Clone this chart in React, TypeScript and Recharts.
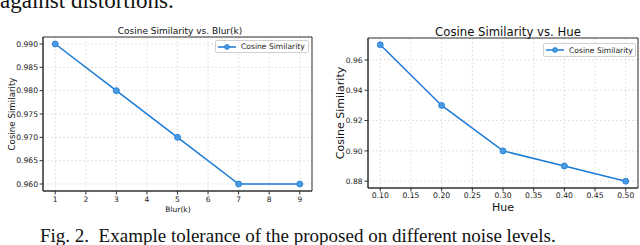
import React from 'react';
import {
  LineChart,
  Line,
  XAxis,
  YAxis,
  CartesianGrid,
  ReferenceArea,
  Legend,
} from 'recharts';

// ---- data ----
const blurK = [1, 3, 5, 7, 9];
const blurSim = [0.99, 0.98, 0.97, 0.96, 0.96];
const blurXTicks = [1, 2, 3, 4, 5, 6, 7, 8, 9];
const blurYTicks = [0.96, 0.965, 0.97, 0.975, 0.98, 0.985, 0.99];

const hueLevels = [0.1, 0.2, 0.3, 0.4, 0.5];
const hueSim = [0.97, 0.93, 0.9, 0.89, 0.88];
const hueXTicks = [0.1, 0.15, 0.2, 0.25, 0.3, 0.35, 0.4, 0.45, 0.5];
const hueYTicks = [0.88, 0.9, 0.92, 0.94, 0.96];

const seriesName = 'Cosine Similarity';
const leftTitle = 'Cosine Similarity vs. Blur(k)';
const rightTitle = 'Cosine Similarity vs. Hue';
const leftXLabel = 'Blur(k)';
const rightXLabel = 'Hue';
const yLabel = 'Cosine Similarity';
const topText = 'against distortions.';
const caption = 'Fig. 2.  Example tolerance of the proposed on different noise levels.';

const blurData = blurK.map((k, i) => ({ x: k, y: blurSim[i] }));
const hueData = hueLevels.map((h, i) => ({ x: h, y: hueSim[i] }));

const BLUE = '#1a7ad6';
const DOT = '#4a9be2';
const SANS = '"DejaVu Sans", sans-serif';
const SERIF = '"Liberation Serif", "Times New Roman", serif';
const SPINE = '#333';

const makeLegend = (w: number, h: number, fs: number) => (props: any) => {
  const payload = props.payload || [];
  return (
    <div
      style={{
        width: w,
        height: h,
        boxSizing: 'border-box',
        border: '1px solid #d0d0d0',
        borderRadius: 2,
        background: 'rgba(255,255,255,0.9)',
        display: 'flex',
        alignItems: 'center',
        fontFamily: SANS,
        fontSize: fs,
        color: '#222',
        paddingLeft: 2,
        whiteSpace: 'nowrap',
      }}
    >
      {payload.map((p: any, i: number) => (
        <React.Fragment key={i}>
          <svg width={18} height={8} style={{ display: 'block' }}>
            <line x1={0} y1={4} x2={18} y2={4} stroke={BLUE} strokeWidth={1.5} />
            <circle cx={9} cy={4} r={2.4} fill={DOT} stroke={BLUE} strokeWidth={0.8} />
          </svg>
          <span style={{ marginLeft: 5 }}>{p.value}</span>
        </React.Fragment>
      ))}
    </div>
  );
};

const tickStyle = (fs: number) => ({ fontFamily: SANS, fontSize: fs, fill: '#1a1a1a' });

export default function App() {
  return (
    <div
      style={{
        position: 'fixed',
        left: 0,
        top: 0,
        width: 640,
        height: 245,
        background: '#fff',
        overflow: 'hidden',
      }}
    >
      {/* Left chart */}
      <div style={{ position: 'absolute', left: 0, top: 0 }}>
        <LineChart
          width={320}
          height={245}
          data={blurData}
          margin={{ top: 37, right: 8, left: 0, bottom: 34 }}
        >
          <CartesianGrid stroke="#d6d6d6" strokeDasharray="2 2" strokeWidth={0.7} />
          <XAxis
            dataKey="x"
            type="number"
            domain={[0.6, 9.4]}
            ticks={blurXTicks}
            interval={0}
            height={20}
            tick={tickStyle(7.5)}
            tickSize={3.5}
            tickMargin={2}
            tickLine={{ stroke: SPINE }}
            axisLine={{ stroke: SPINE }}
            allowDataOverflow
          />
          <YAxis
            type="number"
            domain={[0.9585, 0.9915]}
            ticks={blurYTicks}
            interval={0}
            width={43}
            tick={tickStyle(7.6)}
            tickSize={3.5}
            tickMargin={1.5}
            tickLine={{ stroke: SPINE }}
            axisLine={{ stroke: SPINE }}
            tickFormatter={(v: number) => v.toFixed(3)}
            allowDataOverflow
          />
          <ReferenceArea
            x1={0.6}
            x2={9.4}
            y1={0.9585}
            y2={0.9915}
            fill="none"
            fillOpacity={0}
            stroke={SPINE}
            strokeWidth={1}
          />
          <Legend
            layout="vertical"
            align="center"
            verticalAlign="middle"
            wrapperStyle={{ left: 215, top: 40, width: 94 }}
            content={makeLegend(94, 13, 7.6)}
          />
          <Line
            type="linear"
            dataKey="y"
            name={seriesName}
            stroke={BLUE}
            strokeWidth={1.5}
            dot={{ r: 3, fill: DOT, stroke: BLUE, strokeWidth: 0.8 }}
            isAnimationActive={false}
          />
        </LineChart>
      </div>

      {/* Right chart */}
      <div style={{ position: 'absolute', left: 320, top: 0 }}>
        <LineChart
          width={320}
          height={245}
          data={hueData}
          margin={{ top: 38, right: 2, left: 0, bottom: 37 }}
        >
          <CartesianGrid stroke="#d6d6d6" strokeDasharray="2 2" strokeWidth={0.7} />
          <XAxis
            dataKey="x"
            type="number"
            domain={[0.08, 0.52]}
            ticks={hueXTicks}
            interval={0}
            height={20}
            tick={tickStyle(7.7)}
            tickSize={3.5}
            tickMargin={1}
            tickLine={{ stroke: SPINE }}
            axisLine={{ stroke: SPINE }}
            tickFormatter={(v: number) => v.toFixed(2)}
            allowDataOverflow
          />
          <YAxis
            type="number"
            domain={[0.8755, 0.9745]}
            ticks={hueYTicks}
            interval={0}
            width={48}
            tick={tickStyle(7.5)}
            tickSize={3.5}
            tickMargin={2}
            tickLine={{ stroke: SPINE }}
            axisLine={{ stroke: SPINE }}
            tickFormatter={(v: number) => v.toFixed(2)}
            allowDataOverflow
          />
          <ReferenceArea
            x1={0.08}
            x2={0.52}
            y1={0.8755}
            y2={0.9745}
            fill="none"
            fillOpacity={0}
            stroke={SPINE}
            strokeWidth={1}
          />
          <Legend
            layout="vertical"
            align="center"
            verticalAlign="middle"
            wrapperStyle={{ left: 223, top: 43, width: 93 }}
            content={makeLegend(93, 14, 7.6)}
          />
          <Line
            type="linear"
            dataKey="y"
            name={seriesName}
            stroke={BLUE}
            strokeWidth={1.5}
            dot={{ r: 3, fill: DOT, stroke: BLUE, strokeWidth: 0.8 }}
            isAnimationActive={false}
          />
        </LineChart>
      </div>

      {/* Text overlay */}
      <svg
        width={640}
        height={245}
        style={{ position: 'absolute', left: 0, top: 0, pointerEvents: 'none' }}
      >
        <text x={0} y={8} fontFamily={SERIF} fontSize={23} fill="#111">
          {topText}
        </text>
        <text x={40} y={242} fontFamily={SERIF} fontSize={19} fill="#111" style={{ whiteSpace: 'pre' }}>
          {caption}
        </text>

        <text x={180} y={34} textAnchor="middle" fontFamily={SANS} fontSize={9} fill="#111">
          {leftTitle}
        </text>
        <text x={178} y={212} textAnchor="middle" fontFamily={SANS} fontSize={7.5} fill="#111">
          {leftXLabel}
        </text>
        <text
          transform="translate(15,114) rotate(-90)"
          textAnchor="middle"
          fontFamily={SANS}
          fontSize={8.7}
          fill="#111"
        >
          {yLabel}
        </text>

        <text x={508} y={36} textAnchor="middle" fontFamily={SANS} fontSize={11.7} fill="#111">
          {rightTitle}
        </text>
        <text x={503} y={211} textAnchor="middle" fontFamily={SANS} fontSize={11} fill="#111">
          {rightXLabel}
        </text>
        <text
          transform="translate(344,113) rotate(-90)"
          textAnchor="middle"
          fontFamily={SANS}
          fontSize={11}
          fill="#111"
        >
          {yLabel}
        </text>
      </svg>
    </div>
  );
}
